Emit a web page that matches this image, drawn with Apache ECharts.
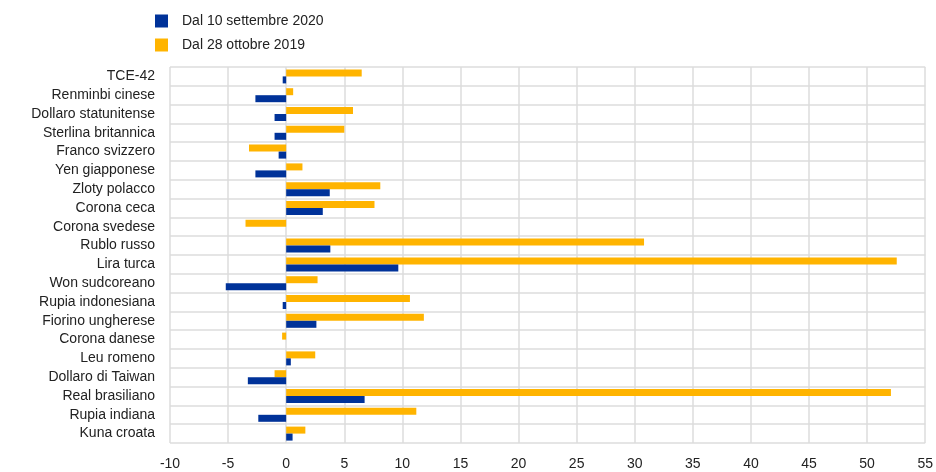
<!DOCTYPE html>
<html>
<head>
<meta charset="utf-8">
<script src="https://cdn.jsdelivr.net/npm/echarts@6/dist/echarts.min.js"></script>
<style>html,body{margin:0;padding:0;background:#fff}#c{width:936px;height:472px}</style>
</head>
<body>
<div id="c"></div>
<script>
const categories = ["TCE-42","Renminbi cinese","Dollaro statunitense","Sterlina britannica","Franco svizzero","Yen giapponese","Zloty polacco","Corona ceca","Corona svedese","Rublo russo","Lira turca","Won sudcoreano","Rupia indonesiana","Fiorino ungherese","Corona danese","Leu romeno","Dollaro di Taiwan","Real brasiliano","Rupia indiana","Kuna croata"];
const seriesNames = ["Dal 10 settembre 2020","Dal 28 ottobre 2019"];
const since2020 = [-0.3,-2.65,-1.0,-1.0,-0.65,-2.65,3.75,3.15,0,3.8,9.65,-5.2,-0.3,2.6,0,0.4,-3.3,6.75,-2.4,0.55];
const since2019 = [6.5,0.6,5.75,5.0,-3.2,1.4,8.1,7.6,-3.5,30.8,52.55,2.7,10.65,11.85,-0.35,2.5,-1.0,52.05,11.2,1.65];
const xTicks = {min:-10,max:55,interval:5};

const chart = echarts.init(document.getElementById('c'));
const font = 'Arial, "Liberation Sans", sans-serif';
chart.setOption({
  animation:false,
  textStyle:{fontFamily:font},
  legend:{
    orient:'vertical', left:150, top:9, itemWidth:13, itemHeight:13, itemGap:10,
    icon:'rect',
    data:seriesNames,
    textStyle:{fontSize:14,color:'#222',fontFamily:font, padding:[0,0,0,9]}
  },
  grid:{left:170,right:10,top:67,bottom:29,containLabel:false},
  xAxis:{
    type:'value', min:xTicks.min, max:xTicks.max, interval:xTicks.interval,
    axisLine:{show:false}, axisTick:{show:false},
    axisLabel:{fontSize:14,color:'#222',margin:14,fontFamily:font},
    splitLine:{show:true,lineStyle:{color:'#dcdcdc',width:1.5}}
  },
  yAxis:{
    type:'category', data:categories, inverse:true,
    axisLine:{show:false}, axisTick:{show:false},
    axisLabel:{fontSize:14,color:'#222',margin:15,fontFamily:font},
    splitLine:{show:true,lineStyle:{color:'#dcdcdc',width:1.5}}
  },
  series:[
    {name:seriesNames[1],type:'bar',data:since2019,barWidth:7,barGap:'0%',itemStyle:{color:'#ffb400'}},
    {name:seriesNames[0],type:'bar',data:since2020,barWidth:7,barGap:'0%',itemStyle:{color:'#003299'}}
  ]
});
</script>
</body>
</html>
